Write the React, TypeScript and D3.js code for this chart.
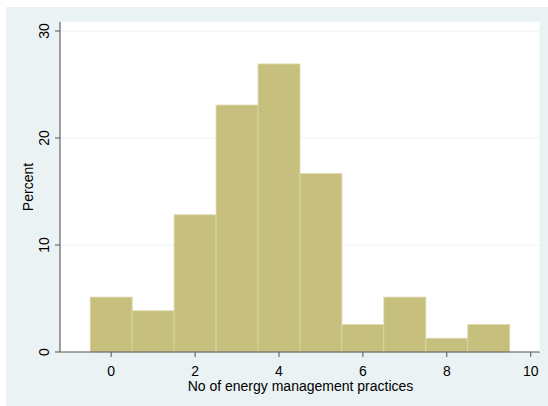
import React from "react";
import * as d3 from "d3";

// Histogram of the number of energy management practices (percent of firms)
const binStarts: number[] = [0, 1, 2, 3, 4, 5, 6, 7, 8, 9];
const percents: number[] = [5.13, 3.85, 12.82, 23.08, 26.92, 16.67, 2.56, 5.13, 1.28, 2.56];
const xTicks: number[] = [0, 2, 4, 6, 8, 10];
const yTicks: number[] = [0, 10, 20, 30];
const xTitle = "No of energy management practices";
const yTitle = "Percent";

const W = 548;
const H = 406;
const plot = { left: 60, right: 540, top: 22, bottom: 352 };

export default function App() {
  const x = d3.scaleLinear().domain([0, 10]).range([111.2, 530.7]);
  const y = d3.scaleLinear().domain([0, 30]).range([plot.bottom, 31]);
  const font = "'Liberation Sans', Arial, Helvetica, sans-serif";

  return (
    <svg
      width={W}
      height={H}
      style={{ position: "absolute", left: 0, top: 0, background: "#ffffff" }}
      fontFamily={font}
    >
      <rect x={6} y={7} width={W - 6} height={H - 7} fill="#EAF2F3" />
      <rect
        x={plot.left}
        y={plot.top}
        width={plot.right - plot.left}
        height={plot.bottom - plot.top}
        fill="#ffffff"
      />
      {yTicks.filter((t) => t > 0).map((t) => (
        <line
          key={"g" + t}
          x1={plot.left}
          x2={plot.right}
          y1={y(t)}
          y2={y(t)}
          stroke="#EAF2F3"
          strokeWidth={1}
        />
      ))}
      {binStarts.map((b, i) => (
        <rect
          key={"b" + i}
          x={x(b - 0.5)}
          y={y(percents[i])}
          width={x(b + 0.5) - x(b - 0.5)}
          height={y(0) - y(percents[i])}
          fill="#C6BF7E"
          stroke="#DCD8A8"
          strokeWidth={0.8}
        />
      ))}
      <line x1={plot.left} x2={plot.left} y1={plot.top} y2={plot.bottom} stroke="#444" strokeWidth={1} />
      <line x1={plot.left} x2={plot.right} y1={plot.bottom} y2={plot.bottom} stroke="#555" strokeWidth={1} />
      <line x1={plot.right} x2={plot.right} y1={plot.top} y2={plot.bottom} stroke="#EAF2F3" strokeWidth={1} />
      {yTicks.map((t) => (
        <g key={"y" + t}>
          <line x1={plot.left - 5} x2={plot.left} y1={y(t)} y2={y(t)} stroke="#555" />
          <text
            transform={`translate(${plot.left - 11},${y(t)}) rotate(-90)`}
            textAnchor="middle"
            fontSize={14}
            fill="#000"
          >
            {t}
          </text>
        </g>
      ))}
      {xTicks.map((t) => (
        <g key={"x" + t}>
          <line x1={x(t)} x2={x(t)} y1={plot.bottom} y2={plot.bottom + 5} stroke="#555" />
          <text x={x(t)} y={plot.bottom + 23.5} textAnchor="middle" fontSize={14} fill="#000">
            {t}
          </text>
        </g>
      ))}
      <text x={(plot.left + plot.right) / 2 + 0.5} y={391} textAnchor="middle" fontSize={14} fill="#000">
        {xTitle}
      </text>
      <text
        transform={`translate(33,${(plot.top + plot.bottom) / 2}) rotate(-90)`}
        textAnchor="middle"
        fontSize={14}
        fill="#000"
      >
        {yTitle}
      </text>
    </svg>
  );
}
